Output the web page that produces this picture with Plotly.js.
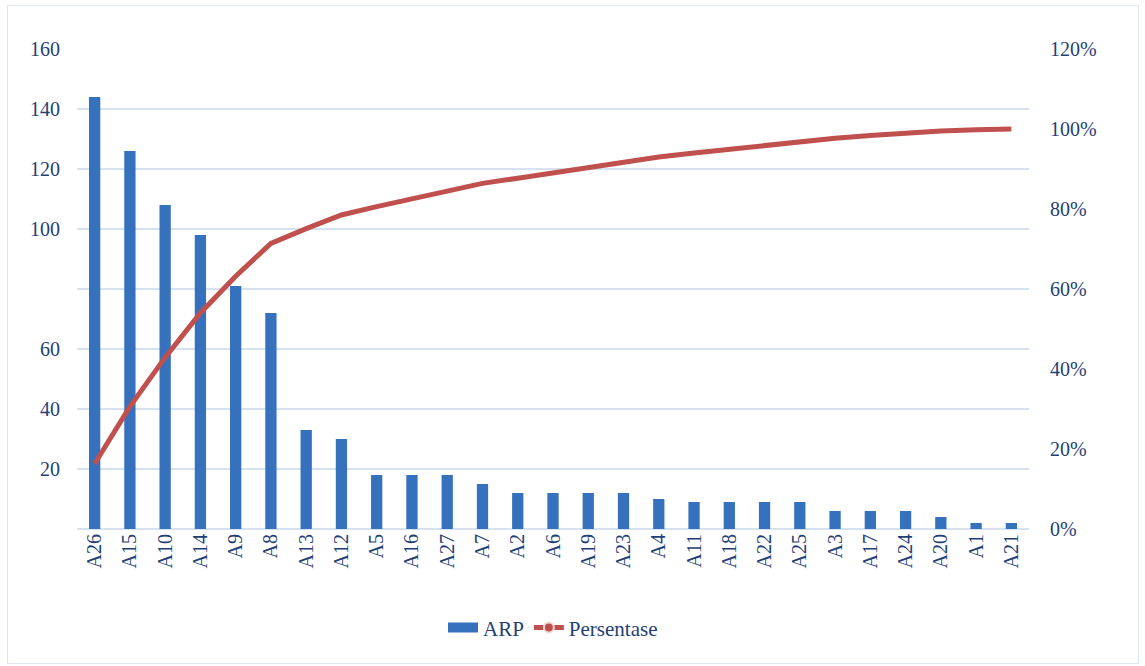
<!DOCTYPE html>
<html>
<head>
<meta charset="utf-8">
<script src="https://cdn.plot.ly/plotly-3.0.1.min.js"></script>
<style>
  html, body { margin: 0; padding: 0; background: #fff; }
  #frame { position: absolute; left: 7px; top: 5px; width: 1132px; height: 659px; border: 1.5px solid #DCE6F2; box-sizing: border-box; }
  #chart { position: absolute; left: 0; top: 0; width: 1145px; height: 666px; }
  #chart text { font-family: "Liberation Serif", serif !important; }
</style>
</head>
<body>
<div id="frame"></div>
<div id="chart"></div>
<script>
const categories = ["A26","A15","A10","A14","A9","A8","A13","A12","A5","A16","A27","A7","A2","A6","A19","A23","A4","A11","A18","A22","A25","A3","A17","A24","A20","A1","A21"];
const arpValues = [144,126,108,98,81,72,33,30,18,18,18,15,12,12,12,12,10,9,9,9,9,6,6,6,4,2,2];
const persentase = [0.163,0.306,0.429,0.540,0.632,0.714,0.751,0.785,0.806,0.826,0.847,0.864,0.877,0.891,0.905,0.918,0.930,0.940,0.950,0.960,0.970,0.977,0.984,0.991,0.995,0.998,1.000];
const leftTicks = [0,20,40,60,80,100,120,140,160];
const leftTickText = ["","20","40","60","","100","120","140","160"];
const rightTicks = [0,0.2,0.4,0.6,0.8,1.0,1.2];
const rightTickText = ["0%","20%","40%","60%","80%","100%","120%"];

const serif = "Liberation Serif";
const textColor = "#1F3F76";
const gridColor = "#D7E2F1";

const traces = [
  {
    type: "bar", name: "ARP", x: categories, y: arpValues,
    marker: { color: "#3571BD" }, width: 0.32, yaxis: "y", showlegend: false
  },
  {
    type: "scatter", mode: "lines", name: "Persentase", x: categories, y: persentase,
    yaxis: "y2", line: { color: "#C0504D", width: 5 }, showlegend: false
  },
  {
    type: "scatter", mode: "lines", name: "ARP", x: [null], y: [null],
    yaxis: "y", line: { color: "#3571BD", width: 10 }
  },
  {
    type: "scatter", mode: "lines+markers", name: "Persentase", x: [null], y: [null],
    yaxis: "y2", line: { color: "#C0504D", width: 5 },
    marker: { color: "#C0504D", size: 10, line: { color: "#F2DCDB", width: 2 } }
  }
];

const layout = {
  width: 1145, height: 666,
  margin: { l: 77, r: 116, t: 49, b: 137 },
  paper_bgcolor: "rgba(0,0,0,0)", plot_bgcolor: "rgba(0,0,0,0)",
  font: { family: serif, color: textColor, size: 20 },
  showlegend: true,
  legend: { orientation: "h", x: 0.5, xanchor: "center", y: -0.206, yanchor: "middle",
            font: { family: serif, size: 21, color: textColor }, traceorder: "normal" },
  xaxis: {
    type: "category", tickangle: -90, showgrid: false, showline: false, ticks: "",
    tickfont: { family: serif, size: 20, color: textColor }
  },
  yaxis: {
    range: [0, 160], tickvals: leftTicks, ticktext: leftTickText, showgrid: true, gridcolor: gridColor,
    gridwidth: 1.5, zeroline: true, zerolinecolor: gridColor, zerolinewidth: 2, showline: false, ticks: "",
    ticklabelstandoff: 16, tickfont: { family: serif, size: 20, color: textColor }
  },
  yaxis2: {
    range: [0, 1.2], overlaying: "y", side: "right", tickvals: rightTicks, ticktext: rightTickText,
    showgrid: false, zeroline: false, showline: false, ticks: "", ticklabelstandoff: 20,
    tickfont: { family: serif, size: 20, color: textColor }
  },
  bargap: 0.68
};

Plotly.newPlot("chart", traces, layout, { displayModeBar: false });
</script>
</body>
</html>
